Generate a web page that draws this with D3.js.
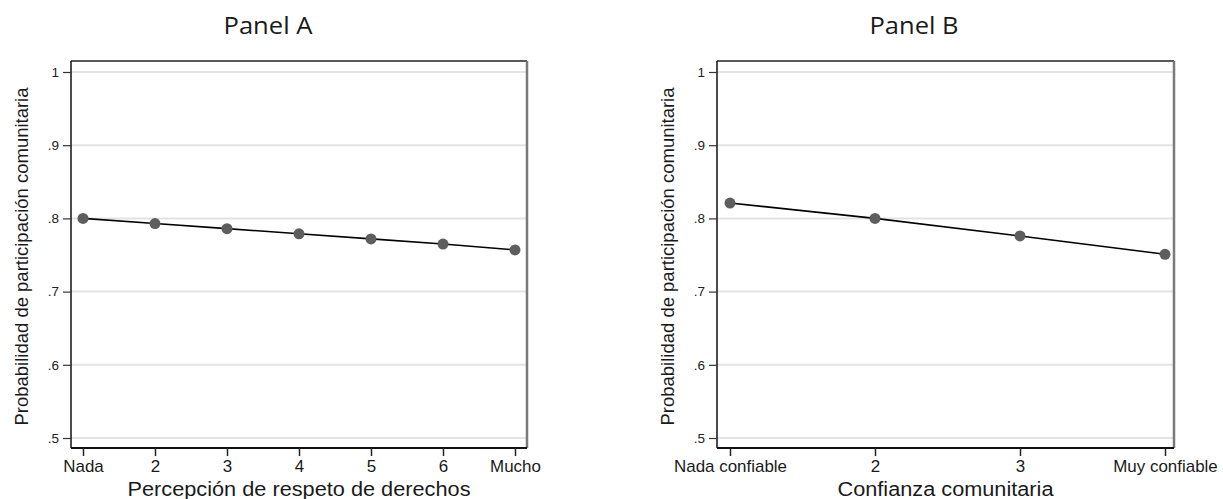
<!DOCTYPE html>
<html>
<head>
<meta charset="utf-8">
<script src="https://cdn.jsdelivr.net/npm/d3@7"></script>
<style>
  body { margin: 0; background: #fff; }
  svg { display: block; }
  text { font-family: "Liberation Sans", Arial, sans-serif; fill: #1a1a1a; }
</style>
</head>
<body>
<svg id="chart"></svg>
<script>
// data
const catsA = ['Nada', '2', '3', '4', '5', '6', 'Mucho']
const valsA = [0.800, 0.793, 0.786, 0.779, 0.772, 0.765, 0.757]
const catsB = ['Nada confiable', '2', '3', 'Muy confiable']
const valsB = [0.821, 0.800, 0.776, 0.751]
const yTicks = [0.5, 0.6, 0.7, 0.8, 0.9, 1]
const yTickLabels = ['.5', '.6', '.7', '.8', '.9', '1']
const titles = ['Panel A', 'Panel B']
const xTitles = ['Percepción de respeto de derechos', 'Confianza comunitaria']
const yTitle = 'Probabilidad de participación comunitaria'

const W = 1223, H = 499
const svg = d3.select('#chart').attr('width', W).attr('height', H)

function drawPanel(opt) {
  const { left, right, top, bottom, xFrom, xTo, cats, vals, title, titleX, xTitle, xTitleLen, yTitleX } = opt
  const g = svg.append('g')

  const x = d3.scaleLinear().domain([1, cats.length]).range([xFrom, xTo])
  const y = d3.scaleLinear().domain([0.5, 1]).range([438, 72])

  // gridlines
  g.append('g').selectAll('line').data(yTicks).join('line')
    .attr('x1', left).attr('x2', right)
    .attr('y1', d => y(d)).attr('y2', d => y(d))
    .style('stroke', '#e3e3e3').style('stroke-width', 2)

  // frame
  g.append('line').attr('x1', left).attr('x2', right).attr('y1', top).attr('y2', top)
    .style('stroke', '#222').style('stroke-width', 1.5)
  g.append('line').attr('x1', right).attr('x2', right).attr('y1', top).attr('y2', bottom)
    .style('stroke', '#7a7a7a').style('stroke-width', 2.5)

  // y axis
  const yAxis = g.append('g').attr('transform', `translate(${left},0)`)
    .call(d3.axisLeft(y).tickValues(yTicks).tickFormat((d, i) => yTickLabels[i]).tickSize(8).tickPadding(4).tickSizeOuter(0))
  yAxis.select('.domain').attr('d', `M0,${top}V${bottom}`).style('stroke', '#111').style('stroke-width', 1.5)
  yAxis.selectAll('.tick line').style('stroke', '#333').style('stroke-width', 1.2)
  yAxis.selectAll('.tick text').style('font-size', '13.5px').style('fill', '#222')

  // x axis
  const xAxis = g.append('g').attr('transform', `translate(0,${bottom})`)
    .call(d3.axisBottom(x).tickValues(d3.range(1, cats.length + 1)).tickFormat((d, i) => cats[i]).tickSize(8).tickPadding(5).tickSizeOuter(0))
  xAxis.select('.domain').attr('d', `M${left},0H${right}`).style('stroke', '#111').style('stroke-width', 2)
  xAxis.selectAll('.tick line').style('stroke', '#222').style('stroke-width', 1.5)
  xAxis.selectAll('.tick text').style('font-size', '16px').style('fill', '#1a1a1a')
    .attr('transform', 'scale(1.06,1)')

  // line + markers
  const pts = vals.map((v, i) => [i + 1, v])
  g.append('path').datum(pts)
    .attr('d', d3.line().x(d => x(d[0])).y(d => y(d[1])))
    .style('fill', 'none').style('stroke', '#000').style('stroke-width', 1.6)
  g.append('g').selectAll('circle').data(pts).join('circle')
    .attr('cx', d => x(d[0])).attr('cy', d => y(d[1])).attr('r', 5.5)
    .style('fill', '#5e5e5e')

  // titles
  g.append('text').attr('x', titleX).attr('y', 34).attr('text-anchor', 'middle')
    .style('font-family', '"Open Sans", sans-serif').style('font-size', '24px').style('fill', '#1a1a1a')
    .attr('textLength', 89).attr('lengthAdjust', 'spacingAndGlyphs')
    .text(title)
  g.append('text').attr('x', (left + right) / 2).attr('y', 496).attr('text-anchor', 'middle')
    .style('font-size', '20px')
    .attr('textLength', xTitleLen).attr('lengthAdjust', 'spacingAndGlyphs')
    .text(xTitle)
  g.append('text').attr('transform', `translate(${yTitleX},${(top + bottom) / 2 + 2}) rotate(-90)`)
    .attr('text-anchor', 'middle').style('font-size', '19px')
    .attr('textLength', 338).attr('lengthAdjust', 'spacingAndGlyphs')
    .text(yTitle)
}

drawPanel({ left: 71, right: 527, top: 61, bottom: 448, xFrom: 83, xTo: 515,
  cats: catsA, vals: valsA, title: titles[0], titleX: 268, xTitle: xTitles[0], xTitleLen: 343, yTitleX: 28 })
drawPanel({ left: 717, right: 1174, top: 61, bottom: 448, xFrom: 730, xTo: 1165,
  cats: catsB, vals: valsB, title: titles[1], titleX: 914, xTitle: xTitles[1], xTitleLen: 216, yTitleX: 674 })
</script>
</body>
</html>
